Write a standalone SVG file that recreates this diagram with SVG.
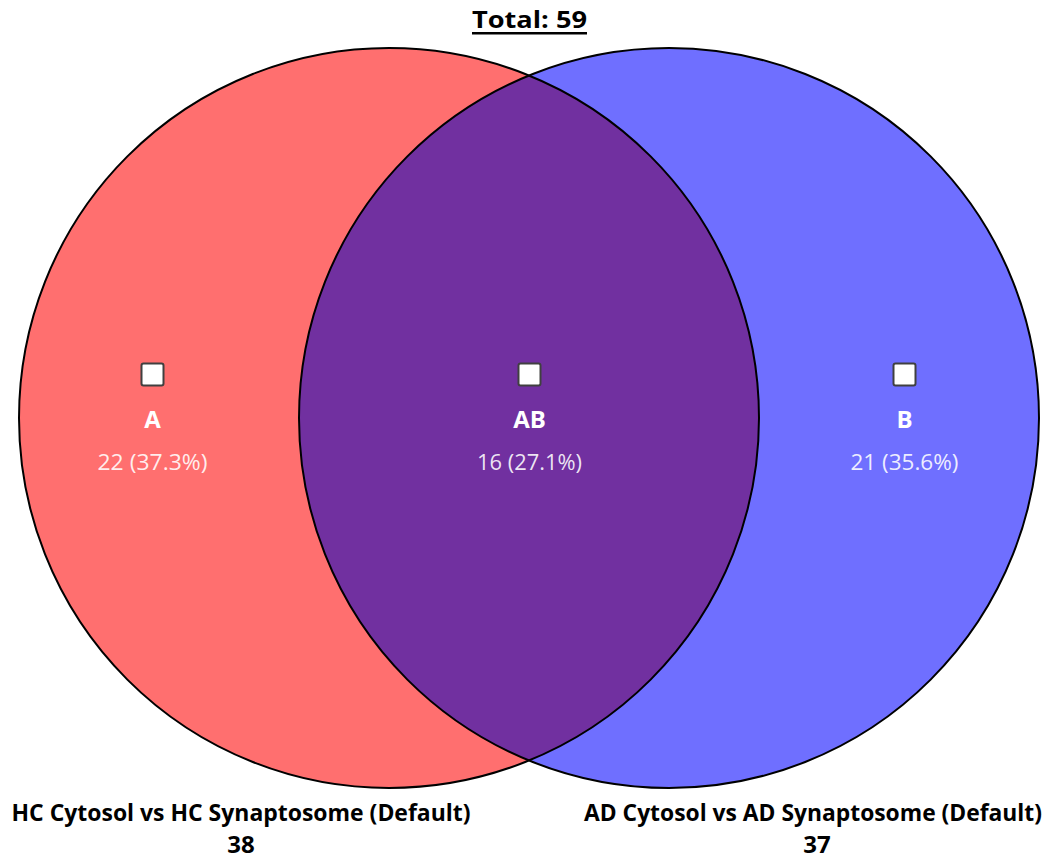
<svg xmlns="http://www.w3.org/2000/svg" width="1055" height="859" viewBox="0 0 1055 859">
<style>
.lbl{font-family:"Open Sans","Noto Sans","Liberation Sans",sans-serif;font-weight:700;fill:#fff;text-anchor:middle;font-size:24px}
.cnt{font-family:"Open Sans","Noto Sans","Liberation Sans",sans-serif;font-weight:400;fill:#fff;fill-opacity:0.88;text-anchor:middle;font-size:21px}
.cap{font-family:"Open Sans","Noto Sans","Liberation Sans",sans-serif;font-weight:700;fill:#000;text-anchor:middle;font-size:24px}
.edge{fill:none;stroke:#000;stroke-width:2}
.box{fill:#fff;stroke:#404040;stroke-width:2}
</style>
<rect width="1055" height="859" fill="#fff"/>
<g id="setA">
<circle cx="389" cy="418" r="370" fill="#ff6f6f"/>
</g>
<g id="setB">
<circle cx="669" cy="418" r="370" fill="#6f6fff"/>
</g>
<g id="setAB">
<path d="M529,75.51 A370,370 0 0 1 529,760.49 A370,370 0 0 1 529,75.51 Z" fill="#7130a0"/>
</g>
<g id="outlines">
<circle class="edge" cx="389" cy="418" r="370"/>
<circle class="edge" cx="669" cy="418" r="370"/>
</g>
<g id="title">
<text x="529.5" y="28" class="cap" font-size="27" textLength="115" lengthAdjust="spacingAndGlyphs">Total: 59</text>
<rect x="472" y="32" width="115" height="2.5" fill="#000"/>
</g>
<g id="regionA">
<rect class="box" x="141.5" y="363.5" width="22" height="22" rx="2"/>
<text x="152.5" y="428" class="lbl">A</text>
<text x="152.5" y="470" class="cnt" textLength="110" lengthAdjust="spacingAndGlyphs">22 (37.3%)</text>
</g>
<g id="regionAB">
<rect class="box" x="518.5" y="363.5" width="22" height="22" rx="2"/>
<text x="529.5" y="428" class="lbl">AB</text>
<text x="529.5" y="470" class="cnt" textLength="105" lengthAdjust="spacingAndGlyphs">16 (27.1%)</text>
</g>
<g id="regionB">
<rect class="box" x="893.5" y="363.5" width="22" height="22" rx="2"/>
<text x="904.5" y="428" class="lbl">B</text>
<text x="904.5" y="470" class="cnt" textLength="108" lengthAdjust="spacingAndGlyphs">21 (35.6%)</text>
</g>
<g id="captionA">
<text x="241" y="821" class="cap" textLength="459" lengthAdjust="spacingAndGlyphs">HC Cytosol vs HC Synaptosome (Default)</text>
<text x="241" y="853" class="cap">38</text>
</g>
<g id="captionB">
<text x="813" y="821" class="cap" textLength="458" lengthAdjust="spacingAndGlyphs">AD Cytosol vs AD Synaptosome (Default)</text>
<text x="817" y="853" class="cap">37</text>
</g>
</svg>
